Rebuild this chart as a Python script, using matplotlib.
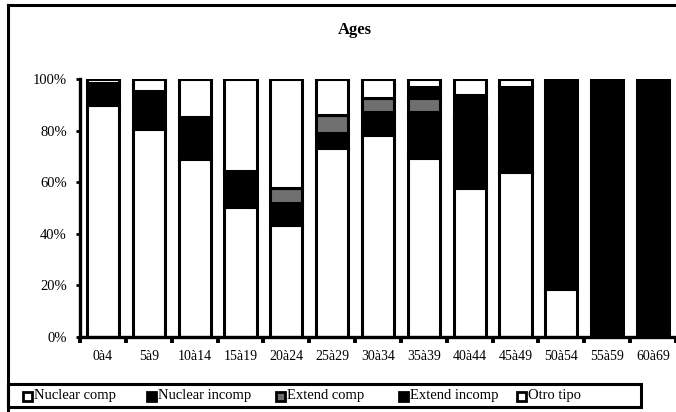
import matplotlib
matplotlib.use("Agg")
import matplotlib.pyplot as plt
import numpy as np
from matplotlib.lines import Line2D
from matplotlib.patches import Rectangle

plt.rcParams["font.family"] = ["Liberation Serif", "DejaVu Serif"]

categories = ["0à4", "5à9", "10à14", "15à19", "20à24", "25à29", "30à34",
              "35à39", "40à44", "45à49", "50à54", "55à59", "60à69"]
nuclear_comp   = [89.9, 80.5, 69.1, 50.5, 43.5, 73.3, 78.3, 69.4, 57.8, 64.0, 18.6, 0, 0]
nuclear_incomp = [8.4, 14.8, 16.1, 13.8, 8.4, 5.8, 8.9, 17.8, 26.7, 32.9, 81.4, 100, 100]
extend_comp    = [0, 0, 0, 0, 5.9, 6.9, 5.4, 5.4, 0.8, 0, 0, 0, 0]
extend_incomp  = [0, 0, 0, 0, 0, 0, 0, 4.3, 8.5, 0, 0, 0, 0]
otro_tipo      = [1.7, 4.7, 14.8, 35.7, 42.2, 14.0, 7.4, 3.1, 6.2, 3.1, 0, 0, 0]
series_names = ["Nuclear comp", "Nuclear incomp", "Extend comp", "Extend incomp", "Otro tipo"]

series = [nuclear_comp, nuclear_incomp, extend_comp, extend_incomp, otro_tipo]
fills = ["white", "black", "#6f6f6f", "black", "white"]

W, H = 676, 412
fig = plt.figure(figsize=(W / 100, H / 100), dpi=100)
ax = fig.add_axes([80 / W, 75 / H, 596 / W, 258 / H])

x = np.arange(len(categories))
bottom = np.zeros(len(categories))
for vals, fc in zip(series, fills):
    vals = np.array(vals, dtype=float)
    ax.bar(x, vals, bottom=bottom, width=0.7, color=fc, edgecolor="black",
           linewidth=2.2, zorder=2)
    bottom += vals

ax.set_xlim(-0.5, len(categories) - 0.5)
ax.set_ylim(0, 100)
ax.set_yticks(np.arange(0, 101, 20))
ax.set_yticklabels([f"{v}%" for v in range(0, 101, 20)], fontsize=10.5)
ax.set_xticks(x)
ax.set_xticklabels(categories, fontsize=10)
ax.set_xticks(np.arange(-0.5, len(categories)), minor=True)
ax.tick_params(axis="x", which="major", length=0, pad=9)
ax.tick_params(axis="x", which="minor", length=4.3, width=2.8, direction="out")
ax.tick_params(axis="y", which="major", length=3, width=2, pad=6.4)

for side in ("top", "right"):
    ax.spines[side].set_visible(False)
for side in ("left", "bottom"):
    ax.spines[side].set_linewidth(2.4)

fig.text(355 / W, 1 - 30 / H, "Ages", ha="center", va="center",
         fontsize=12, fontweight="bold")

# outer frame of the scanned chart
fig.add_artist(Line2D([8 / W, 8 / W], [0, 1 - 5 / H], color="black",
                      linewidth=2.2, transform=fig.transFigure))
fig.add_artist(Line2D([8 / W, 1], [1 - 5 / H, 1 - 5 / H], color="black",
                      linewidth=2.2, transform=fig.transFigure))

# legend box with hand-placed entries
fig.add_artist(Rectangle((8 / W, 5 / H), 633 / W, 23 / H, fill=False,
                         edgecolor="black", linewidth=2.2, transform=fig.transFigure))
legend_x = [23, 147, 276, 399, 517]
legend_y = 396
for lx, name, fc in zip(legend_x, series_names, fills):
    fig.add_artist(Rectangle((lx / W, (H - legend_y - 4.5) / H), 9 / W, 9 / H,
                             facecolor=fc, edgecolor="black", linewidth=2,
                             transform=fig.transFigure))
    fig.text((lx + 11) / W, (H - legend_y) / H, name, ha="left", va="center",
             fontsize=10.5)

fig.savefig("out.png", dpi=100)
